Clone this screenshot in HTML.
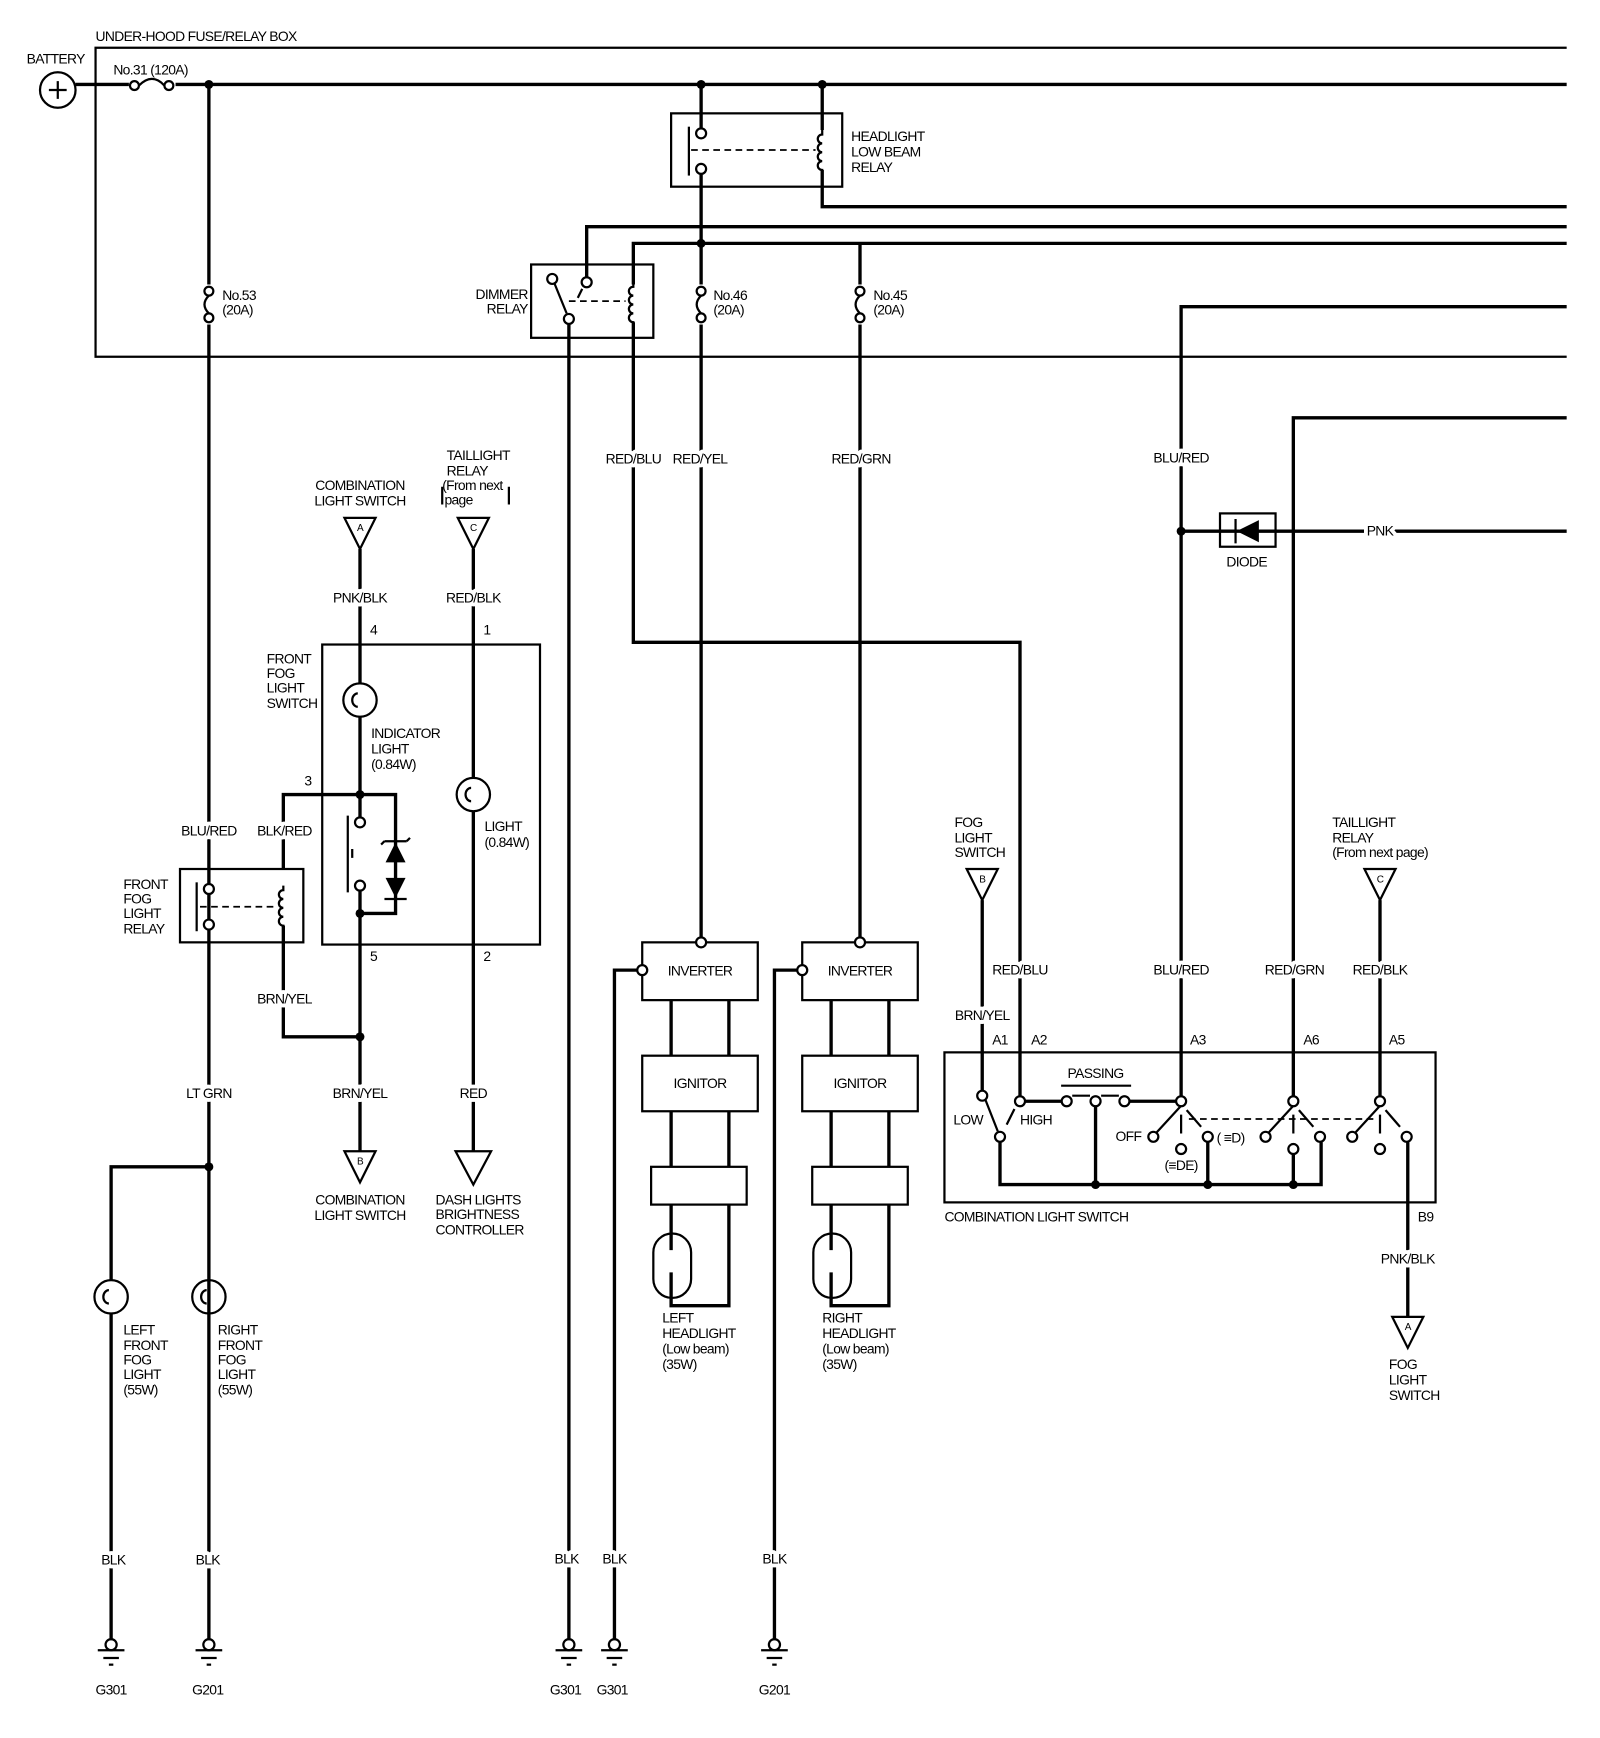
<!DOCTYPE html>
<html><head><meta charset="utf-8"><style>
html,body{margin:0;padding:0;background:#fff;}
svg{display:block;}
text{font-family:"Liberation Sans",sans-serif;font-size:12.5px;fill:#000;letter-spacing:-0.6px;}
.lb{stroke:#fff;stroke-width:7px;paint-order:stroke;stroke-linejoin:round;}
.w{stroke:#000;stroke-width:3;fill:none;}
.t{stroke:#000;stroke-width:2;fill:none;}
.d{stroke:#000;stroke-width:1.6;fill:none;stroke-dasharray:6,4;}
.c{stroke:#000;stroke-width:2;fill:#fff;}
.m{text-anchor:middle;}
.e{text-anchor:end;}
</style></head><body>
<svg width="1600" height="1738" viewBox="0 0 1440 1564" preserveAspectRatio="none" xmlns="http://www.w3.org/2000/svg">
<defs>
<g id="coil"><path class="t" d="M0,-18 v4 a4,4 0 1 0 0,8 a4,4 0 1 0 0,8 a4,4 0 1 0 0,8 a4,4 0 1 0 0,8 v4"/></g>
<g id="gnd"><circle class="t" cx="0" cy="-5" r="5" fill="#fff"/><line class="t" x1="-12" y1="0" x2="12" y2="0"/><line class="t" x1="-7" y1="7" x2="7" y2="7"/><line class="t" x1="-2" y1="13" x2="2" y2="13"/></g>
<g id="fuse"><circle class="c" cx="0" cy="-12" r="4"/><path class="t" d="M0,-8 q-8,8 0,16"/><circle class="c" cx="0" cy="12" r="4"/></g>
</defs>
<!-- box -->
<text x="86" y="37">UNDER-HOOD FUSE/RELAY BOX</text>
<path class="t" d="M1410,43 H86 V321 H1410"/>
<text x="24" y="57">BATTERY</text>
<circle class="t" cx="52" cy="81" r="16"/>
<path class="t" d="M44,81 h16 M52,73 v16"/>
<path class="w" d="M68,76 H116 M158,76 H1410"/>
<circle class="c" cx="121" cy="77" r="4"/><path class="t" d="M125,77 q12,-12 23,0"/><circle class="c" cx="152" cy="77" r="4"/>
<text x="102" y="67">No.31 (120A)</text>
<circle cx="188" cy="76" r="4"/><circle cx="631" cy="76" r="4"/><circle cx="740" cy="76" r="4"/>
<!-- No.53 line -->
<path class="w" d="M188,76 V256 M188,292 V1476"/>
<use href="#fuse" x="188" y="274"/>
<text x="200" y="270">No.53</text><text x="200" y="283">(20A)</text>
<!-- headlight relay -->
<rect class="t" x="604" y="102" width="154" height="66"/>
<path class="w" d="M631,76 V116 M631,156 V256 M631,292 V848"/>
<circle class="c" cx="631" cy="120" r="4.5"/><circle class="c" cx="631" cy="152" r="4.5"/>
<path class="t" d="M620,114 V158"/><path class="d" d="M622,135 H734"/>
<path class="w" d="M740,76 V117 M740,153 V186 H1410"/>
<use href="#coil" x="740" y="135"/>
<text x="766" y="127">HEADLIGHT</text><text x="766" y="141">LOW BEAM</text><text x="766" y="155">RELAY</text>
<circle cx="631" cy="219" r="4"/>
<use href="#fuse" x="631" y="274"/>
<text x="642" y="270">No.46</text><text x="642" y="283">(20A)</text>
<!-- 204 / 219 lines -->
<path class="w" d="M1410,204 H528 V250 M1410,219 H570 V256"/>
<path class="w" d="M774,219 V256 M774,292 V848"/>
<use href="#fuse" x="774" y="274"/>
<text x="786" y="270">No.45</text><text x="786" y="283">(20A)</text>
<!-- dimmer -->
<rect class="t" x="478" y="238" width="110" height="66"/>
<circle class="c" cx="497" cy="251" r="4.5"/><circle class="c" cx="528" cy="254" r="4.5"/><circle class="c" cx="512" cy="287" r="4.5"/>
<path class="t" d="M499,255 L510,282 M520,268 L524,260"/><path class="d" d="M512,271 H563"/>
<use href="#coil" x="570" y="272"/>
<text class="e" x="475" y="269">DIMMER</text><text class="e" x="475" y="282">RELAY</text>
<path class="w" d="M512,291 V1476 M570,290 V578 H918 V989"/>
<!-- right lines -->
<path class="w" d="M1410,276 H1063 V987 M1410,376 H1164 V987"/>
<circle cx="1063" cy="478" r="4"/>
<path class="w" d="M1063,478 H1410"/>
<rect class="t" x="1098" y="462" width="50" height="30" fill="#fff"/>
<path d="M1113,478 L1133,468 V488 Z"/><path class="t" d="M1112,467 V489 M1133,478 H1148"/>
<text class="m" x="1122" y="510">DIODE</text>
<text class="m lb" x="1242" y="482">PNK</text>
<text class="m lb" x="570" y="417">RED/BLU</text><text class="m lb" x="630" y="417">RED/YEL</text><text class="m lb" x="775" y="417">RED/GRN</text><text class="m lb" x="1063" y="416">BLU/RED</text>
<!-- connectors top -->
<path class="t" d="M310,466 H338 L324,494 Z"/><text class="m" x="324" y="478" style="font-size:9px">A</text>
<text class="m" x="324" y="441">COMBINATION</text><text class="m" x="324" y="455">LIGHT SWITCH</text>
<path class="t" d="M412,466 H440 L426,494 Z"/><text class="m" x="426" y="478" style="font-size:9px">C</text>
<text x="402" y="414">TAILLIGHT</text><text x="402" y="428">RELAY</text><text x="398" y="441">(From next</text><text x="400" y="454">page</text>
<path class="t" d="M398,438 v16 M458,438 v16"/>
<!-- fog switch box -->
<rect class="t" x="290" y="580" width="196" height="270"/>
<text x="240" y="597">FRONT</text><text x="240" y="610">FOG</text><text x="240" y="623">LIGHT</text><text x="240" y="637">SWITCH</text>
<path class="w" d="M324,494 V615 M324,645 V736 M324,801 V1036"/>
<circle class="t" cx="324" cy="630" r="15"/><path class="t" d="M322,624 a5,6 0 1 0 0,12"/>
<text x="334" y="664">INDICATOR</text><text x="334" y="678">LIGHT</text><text x="334" y="692">(0.84W)</text>
<path class="w" d="M426,494 V700 M426,730 V1036"/>
<circle class="t" cx="426" cy="715" r="15"/><path class="t" d="M424,709 a5,6 0 1 0 0,12"/>
<text x="436" y="748">LIGHT</text><text x="436" y="762">(0.84W)</text>
<text class="m lb" x="324" y="542">PNK/BLK</text><text class="m lb" x="426" y="542">RED/BLK</text>
<text x="333" y="571">4</text><text x="435" y="571">1</text>
<path class="w" d="M255,782 V715 H356 V822 H324"/>
<circle cx="324" cy="715" r="4"/><circle cx="324" cy="822" r="4"/>
<circle class="c" cx="324" cy="740" r="4.5"/><circle class="c" cx="324" cy="797" r="4.5"/>
<path class="t" d="M313,734 V803 M317,764 V772"/>
<path d="M356,758 L347,776 H365 Z" fill="#000"/><path class="t" d="M346,757 H366 M346,757 l-3,3 M366,757 l3,-3"/>
<path d="M356,808 L347,790 H365 Z" fill="#000"/><path class="t" d="M346,809 H366"/>
<text x="274" y="707">3</text><text x="333" y="865">5</text><text x="435" y="865">2</text>
<!-- fog relay -->
<rect class="t" x="162" y="782" width="111" height="66"/>
<circle class="c" cx="188" cy="800" r="4.5"/><circle class="c" cx="188" cy="832" r="4.5"/>
<path class="t" d="M177,794 V838"/><path class="d" d="M180,816 H248"/>
<use href="#coil" x="255" y="815"/>
<path class="w" d="M255,833 V933 H324"/>
<circle cx="324" cy="933" r="4"/>
<text x="111" y="800">FRONT</text><text x="111" y="813">FOG</text><text x="111" y="826">LIGHT</text><text x="111" y="840">RELAY</text>
<text class="m lb" x="188" y="752">BLU/RED</text><text class="m lb" x="256" y="752">BLK/RED</text>
<text class="m lb" x="256" y="903">BRN/YEL</text>
<text class="m lb" x="188" y="988">LT GRN</text>
<text class="m lb" x="324" y="988">BRN/YEL</text><text class="m lb" x="426" y="988">RED</text>
<path class="t" d="M310,1036 H338 L324,1064 Z"/><text class="m" x="324" y="1048" style="font-size:9px">B</text>
<path class="t" d="M410,1036 H442 L426,1066 Z"/>
<text class="m" x="324" y="1084">COMBINATION</text><text class="m" x="324" y="1098">LIGHT SWITCH</text>
<text x="392" y="1084">DASH LIGHTS</text><text x="392" y="1097">BRIGHTNESS</text><text x="392" y="1111">CONTROLLER</text>
<!-- fog lights -->
<circle cx="188" cy="1050" r="4"/>
<path class="w" d="M188,1050 H100 V1152 M100,1182 V1476"/>
<circle class="t" cx="100" cy="1167" r="15"/><path class="t" d="M98,1161 a5,6 0 1 0 0,12"/>
<circle class="t" cx="188" cy="1167" r="15" fill="#fff"/><path class="t" d="M186,1161 a5,6 0 1 0 0,12"/>
<text x="111" y="1201">LEFT</text><text x="111" y="1215">FRONT</text><text x="111" y="1228">FOG</text><text x="111" y="1241">LIGHT</text><text x="111" y="1255">(55W)</text>
<text x="196" y="1201">RIGHT</text><text x="196" y="1215">FRONT</text><text x="196" y="1228">FOG</text><text x="196" y="1241">LIGHT</text><text x="196" y="1255">(55W)</text>
<!-- headlights -->
<g>
<rect class="t" x="578" y="848" width="104" height="52"/><text class="m" x="630" y="878">INVERTER</text>
<circle class="c" cx="631" cy="848" r="4.5"/><circle class="c" cx="578" cy="873" r="4.5"/>
<path class="w" d="M574,873 H553 V1476"/>
<rect class="t" x="578" y="950" width="104" height="50"/><text class="m" x="630" y="979">IGNITOR</text>
<path class="w" d="M604,900 V950 M656,900 V950 M604,1000 V1050 M656,1000 V1050 M604,1084 V1125 M604,1145 V1175 H656 V1084"/>
<rect class="t" x="586" y="1050" width="86" height="34"/>
<rect class="t" x="588" y="1110" width="34" height="58" rx="17"/>
<text x="596" y="1190">LEFT</text><text x="596" y="1204">HEADLIGHT</text><text x="596" y="1218">(Low beam)</text><text x="596" y="1232">(35W)</text>
</g>
<g>
<rect class="t" x="722" y="848" width="104" height="52"/><text class="m" x="774" y="878">INVERTER</text>
<circle class="c" cx="774" cy="848" r="4.5"/><circle class="c" cx="722" cy="873" r="4.5"/>
<path class="w" d="M718,873 H697 V1476"/>
<rect class="t" x="722" y="950" width="104" height="50"/><text class="m" x="774" y="979">IGNITOR</text>
<path class="w" d="M748,900 V950 M800,900 V950 M748,1000 V1050 M800,1000 V1050 M748,1084 V1125 M748,1145 V1175 H800 V1084"/>
<rect class="t" x="731" y="1050" width="86" height="34"/>
<rect class="t" x="732" y="1110" width="34" height="58" rx="17"/>
<text x="740" y="1190">RIGHT</text><text x="740" y="1204">HEADLIGHT</text><text x="740" y="1218">(Low beam)</text><text x="740" y="1232">(35W)</text>
</g>
<!-- grounds -->
<text class="m lb" x="102" y="1408">BLK</text><text class="m lb" x="187" y="1408">BLK</text><text class="m lb" x="510" y="1407">BLK</text><text class="m lb" x="553" y="1407">BLK</text><text class="m lb" x="697" y="1407">BLK</text>
<use href="#gnd" x="100" y="1485"/><use href="#gnd" x="188" y="1485"/><use href="#gnd" x="512" y="1485"/><use href="#gnd" x="553" y="1485"/><use href="#gnd" x="697" y="1485"/>
<text class="m" x="100" y="1525">G301</text><text class="m" x="187" y="1525">G201</text><text class="m" x="509" y="1525">G301</text><text class="m" x="551" y="1525">G301</text><text class="m" x="697" y="1525">G201</text>
<!-- combination switch -->
<text x="859" y="744">FOG</text><text x="859" y="758">LIGHT</text><text x="859" y="771">SWITCH</text>
<path class="t" d="M870,782 H898 L884,810 Z"/><text class="m" x="884" y="794" style="font-size:9px">B</text>
<path class="w" d="M884,810 V981"/>
<path class="w" d="M1242,810 V987"/>
<text class="m lb" x="884" y="918">BRN/YEL</text><text class="m lb" x="918" y="877">RED/BLU</text>
<text class="m lb" x="1063" y="877">BLU/RED</text><text class="m lb" x="1165" y="877">RED/GRN</text><text class="m lb" x="1242" y="877">RED/BLK</text>
<text x="1199" y="744">TAILLIGHT</text><text x="1199" y="758">RELAY</text><text x="1199" y="771">(From next page)</text>
<path class="t" d="M1228,782 H1256 L1242,810 Z"/><text class="m" x="1242" y="794" style="font-size:9px">C</text>
<text x="893" y="940">A1</text><text x="928" y="940">A2</text><text x="1071" y="940">A3</text><text x="1173" y="940">A6</text><text x="1250" y="940">A5</text>
<rect class="t" x="850" y="947" width="442" height="135"/>
<text x="850" y="1099">COMBINATION LIGHT SWITCH</text><text x="1276" y="1099">B9</text>
<circle class="c" cx="884" cy="986" r="4.5"/><circle class="c" cx="918" cy="991" r="4.5"/><circle class="c" cx="900" cy="1023" r="4.5"/>
<path class="t" d="M887,990 L898,1018 M906,1012 L913,998"/>
<text x="858" y="1012">LOW</text><text x="918" y="1012">HIGH</text>
<text class="m" x="986" y="970">PASSING</text><path class="t" d="M955,977 H1018"/>
<path class="w" d="M922,991 H956 M1016,991 H1059"/>
<circle class="c" cx="960" cy="991" r="4.5"/><circle class="c" cx="986" cy="991" r="4.5"/><circle class="c" cx="1012" cy="991" r="4.5"/>
<path class="t" d="M965,986 H981 M991,986 H1007"/>
<g id="sw">
<circle class="c" cx="1063" cy="991" r="4.5"/><circle class="c" cx="1038" cy="1023" r="4.5"/><circle class="c" cx="1063" cy="1034" r="4.5"/><circle class="c" cx="1087" cy="1023" r="4.5"/>
<path class="t" d="M1041,1019 L1063,995 M1063,1003 V1020 M1068,999 L1081,1014"/>
</g>
<use href="#sw" x="101"/><use href="#sw" x="179"/>
<path class="d" d="M1070,1007 H1236"/>
<text x="1004" y="1027">OFF</text><text x="1095" y="1028">( ≡D)</text><text class="m" x="1063" y="1053">(≡DE)</text>
<path class="w" d="M900,1028 V1066 H1189 V1028 M986,996 V1066 M1087,1028 V1066 M1164,1039 V1066 M1267,1028 V1185"/>
<circle cx="986" cy="1066" r="4"/><circle cx="1087" cy="1066" r="4"/><circle cx="1164" cy="1066" r="4"/>
<text class="m lb" x="1267" y="1137">PNK/BLK</text>
<path class="t" d="M1253,1185 H1281 L1267,1213 Z"/><text class="m" x="1267" y="1197" style="font-size:9px">A</text>
<text x="1250" y="1232">FOG</text><text x="1250" y="1246">LIGHT</text><text x="1250" y="1260">SWITCH</text>
</svg>
</body></html>
